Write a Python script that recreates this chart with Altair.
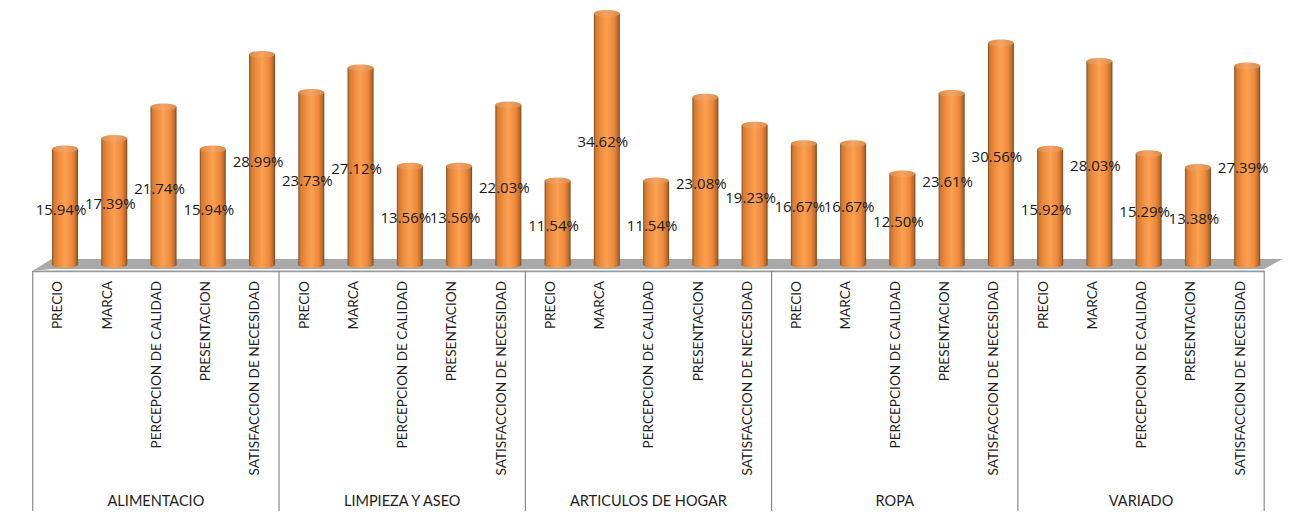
import altair as alt
import pandas as pd

groups = ["ALIMENTACIO", "LIMPIEZA Y ASEO", "ARTICULOS DE HOGAR", "ROPA", "VARIADO"]
factors = ["PRECIO", "MARCA", "PERCEPCION DE CALIDAD", "PRESENTACION", "SATISFACCION DE NECESIDAD"]
alimentacio = [15.94, 17.39, 21.74, 15.94, 28.99]
limpieza = [23.73, 27.12, 13.56, 13.56, 22.03]
hogar = [11.54, 34.62, 11.54, 23.08, 19.23]
ropa = [16.67, 16.67, 12.50, 23.61, 30.56]
variado = [15.92, 28.03, 15.29, 13.38, 27.39]
series = [alimentacio, limpieza, hogar, ropa, variado]

# The 3D floor pushes the bars to the right of their axis slots.
SHIFT = 0.155
N = len(factors)

rows = []
for g, vals in enumerate(series):
    for f, v in enumerate(vals):
        idx = g * N + f
        rows.append({"idx": idx, "axis_x": idx - SHIFT + 0.02, "factor": factors[f],
                     "value": v, "half": v / 2, "label": f"{v:.2f}%"})
bars = pd.DataFrame(rows)

group_df = pd.DataFrame({
    "name": groups,
    "x": [g * N + (N - 1) / 2 - SHIFT for g in range(len(groups))],
})
edges = pd.DataFrame({"x": [g * N - 0.5 - SHIFT for g in range(len(groups) + 1)]})

x_scale = alt.Scale(domain=[-1.32, 24.91], nice=False, zero=False, padding=0)
y_scale = alt.Scale(domain=[-34.83, 36.48], nice=False, zero=False, padding=0)
X = lambda f: alt.X(f, type="quantitative", scale=x_scale, axis=None)
Y = lambda f: alt.Y(f, type="quantitative", scale=y_scale, axis=None)

body = alt.Gradient(
    gradient="linear", x1=0, x2=1, y1=0, y2=0,
    stops=[
        alt.GradientStop(color="#7d4a1f", offset=0),
        alt.GradientStop(color="#cf7a32", offset=0.07),
        alt.GradientStop(color="#ee8b3c", offset=0.25),
        alt.GradientStop(color="#fba052", offset=0.5),
        alt.GradientStop(color="#ee883a", offset=0.78),
        alt.GradientStop(color="#b96a2b", offset=0.93),
        alt.GradientStop(color="#764318", offset=1),
    ],
)
cap = alt.Gradient(
    gradient="linear", x1=0, x2=1, y1=0, y2=0,
    stops=[
        alt.GradientStop(color="#d98a48", offset=0),
        alt.GradientStop(color="#f6a465", offset=0.5),
        alt.GradientStop(color="#d98a48", offset=1),
    ],
)
ELLIPSE = "M-1,0 A1,0.26 0 1 1 1,0 A1,0.26 0 1 1 -1,0 Z"

# Floor of the pseudo-3D plot: the area's top and bottom edges meet at both ends.
floor = pd.DataFrame({
    "x": [-0.655, -0.27, 24.5 - SHIFT, 24.72],
    "top": [-0.88, 0.76, 0.76, 0.76],
    "bottom": [-0.88, -0.62, -0.62, 0.76],
})
floor_layer = alt.Chart(floor).mark_area(color="#a9a9a9", interpolate="linear").encode(
    x=X("x"), y=Y("top"), y2=alt.Y2("bottom")
)
front = alt.Chart(pd.DataFrame({"x": [edges.x.min()], "x2": [edges.x.max()], "y": [-0.95]})).mark_rule(
    color="#9a9a9a", strokeWidth=1.6
).encode(x=X("x"), x2="x2", y=Y("y"))
dividers = alt.Chart(edges).mark_rule(color="#7f7f7f", strokeWidth=1.1).encode(
    x=X("x"), y=alt.value(271), y2=alt.value(511)
)

shaft = alt.Chart(bars).mark_bar(size=26, fill=body).encode(x=X("idx"), y=Y("value"))
bottom = alt.Chart(bars).transform_calculate(base="0").mark_point(
    shape=ELLIPSE, size=676, filled=True, fill=body, opacity=1, strokeWidth=0
).encode(x=X("idx"), y=Y("base"))
top = alt.Chart(bars).mark_point(
    shape=ELLIPSE, size=676, filled=True, fill=cap, opacity=1, strokeWidth=0
).encode(x=X("idx"), y=Y("value"))

values = alt.Chart(bars).mark_text(
    font="Open Sans", fontSize=15, color="#1a1a1a", dx=-4, dy=3, align="center", baseline="middle"
).encode(x=X("idx"), y=Y("half"), text="label:N")
factor_text = alt.Chart(bars).mark_text(
    font="Lato", fontSize=13.6, color="#1e1e1e", angle=270, align="right", baseline="middle"
).encode(x=X("axis_x"), y=alt.value(281), text="factor:N")
group_text = alt.Chart(group_df).mark_text(
    font="Lato", fontSize=14.5, color="#1e1e1e", align="center", baseline="middle"
).encode(x=X("x"), y=alt.value(502), text="name:N")

chart = alt.layer(
    floor_layer, front, dividers, bottom, shaft, top, values, factor_text, group_text
).properties(
    width=1292, height=517, padding=0, autosize="none", background="white"
).configure_view(stroke=None)

chart.save("out.html", embed_options={"renderer": "svg", "actions": False})
